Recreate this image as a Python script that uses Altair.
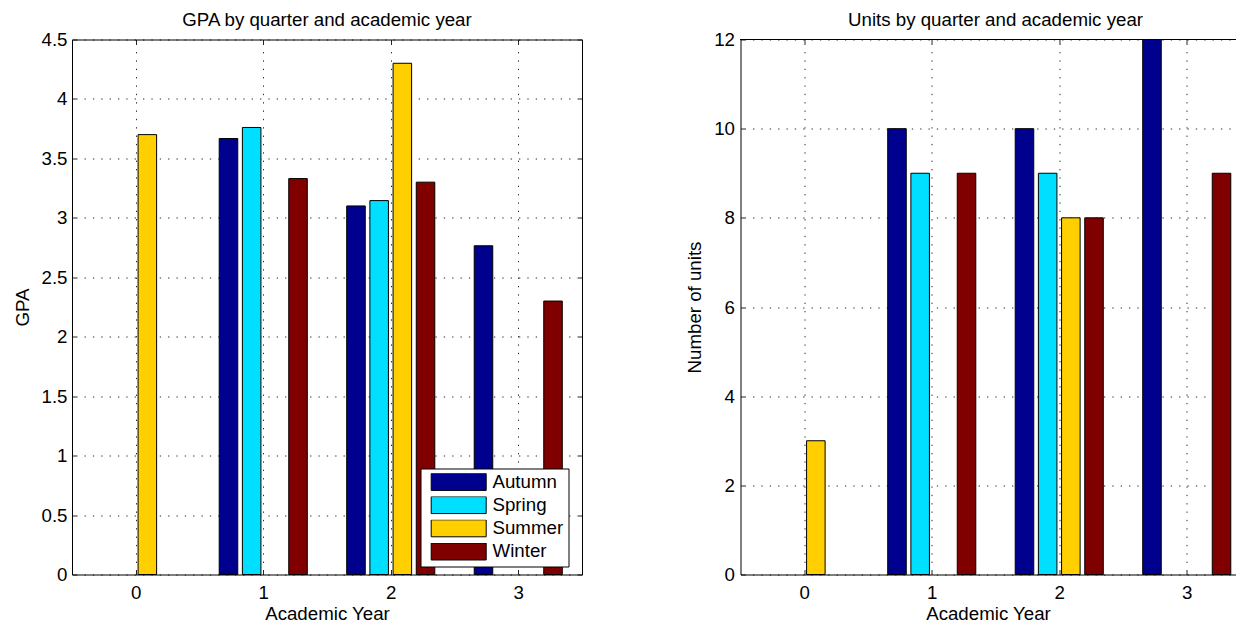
import altair as alt
import pandas as pd

# ---- data ----
years = [0, 1, 2, 3]
quarters = ["Autumn", "Spring", "Summer", "Winter"]
gpa_autumn = [None, 3.667, 3.10, 2.765]
gpa_spring = [None, 3.76, 3.145, None]
gpa_summer = [3.70, None, 4.30, None]
gpa_winter = [None, 3.33, 3.30, 2.30]
units_autumn = [None, 10, 10, 12]
units_spring = [None, 9, 9, None]
units_summer = [3, None, 8, None]
units_winter = [None, 9, 8, 9]
gpa_ticks = [0, 0.5, 1, 1.5, 2, 2.5, 3, 3.5, 4, 4.5]
unit_ticks = [0, 2, 4, 6, 8, 10, 12]
colors = ["#00008F", "#00DFFF", "#FFCF00", "#800000"]

gpa_by_q = [gpa_autumn, gpa_spring, gpa_summer, gpa_winter]
units_by_q = [units_autumn, units_spring, units_summer, units_winter]
rows = []
for qi, q in enumerate(quarters):
    for i, yr in enumerate(years):
        g = gpa_by_q[qi][i]
        u = units_by_q[qi][i]
        if g is None and u is None:
            continue
        rows.append({"year": yr, "quarter": q, "qi": qi, "gpa": g, "units": u})
df = pd.DataFrame(rows)

FONT = "Liberation Sans"
FS = 18.7
W, H = 510, 535
W_RIGHT = 495  # right panel is cut by the picture edge


def dash(L, tick=5.0, dot=1.3, gap=7.0):
    inner = L - 2 * tick
    n = int((inner - gap) // (dot + gap))
    g = (inner - n * dot) / (n + 1)
    arr = [tick]
    for _ in range(n):
        arr += [g, dot]
    arr += [g, tick, 3000]
    return [round(v, 3) for v in arr]


slot = 1 / 5.5
half = 0.4 * slot
x0_expr = f"datum.year + (datum.qi - 1.5) * {slot} - {half}"
x1_expr = f"datum.year + (datum.qi - 1.5) * {slot} + {half}"

color_scale = alt.Scale(domain=quarters, range=colors)


def x_axis(domain_line):
    return alt.Axis(
        values=years, format="d", title="Academic Year", grid=True,
        gridDash=dash(H), gridColor="black", gridWidth=1, gridOpacity=0.85,
        ticks=False, domain=domain_line, domainColor="black", domainWidth=1,
        labelPadding=8.5, labelFontSize=FS,
        labelFont=FONT, labelColor="black", titleFont=FONT, titleFontSize=FS,
        titleFontWeight="normal", titleColor="black", titleY=45,
        titleBaseline="alphabetic",
    )


def y_axis(vals, title, tx, lp, domain_line):
    return alt.Axis(
        values=vals, format="~g", title=title, grid=True,
        gridDash=dash(W), gridColor="black", gridWidth=1, gridOpacity=0.85,
        ticks=False, domain=domain_line, domainColor="black", domainWidth=1,
        labelPadding=lp, labelFontSize=FS,
        labelFont=FONT, labelColor="black", titleFont=FONT, titleFontSize=FS,
        titleFontWeight="normal", titleColor="black", titleX=tx, titleY=H / 2,
        titleBaseline="alphabetic", titleAlign="center",
    )


def title(text, dx=0):
    return alt.TitleParams(
        text, font=FONT, fontSize=FS, fontWeight="normal", color="black",
        baseline="alphabetic", offset=-14, anchor="middle", dx=dx,
    )


base = alt.Chart(df).transform_calculate(x0=x0_expr, x1=x1_expr)

left = base.mark_bar(stroke="black", strokeWidth=1).encode(
    x=alt.X("x0:Q", scale=alt.Scale(domain=[-0.5, 3.5], nice=False, zero=False),
            axis=x_axis(False)),
    x2="x1:Q",
    y=alt.Y("gpa:Q", scale=alt.Scale(domain=[0, 4.5], nice=False),
            axis=y_axis(gpa_ticks, "GPA", -43.5, 5, False)),
    y2=alt.datum(0),
    color=alt.Color(
        "quarter:N", scale=color_scale,
        legend=alt.Legend(
            title=None, orient="none", legendX=348.5, legendY=429,
            padding=4.8, clipHeight=17.2, rowPadding=3.2,
            symbolType="M-1,-0.309H1V0.309H-1Z", symbolSize=3025,
            symbolStrokeColor="black", symbolStrokeWidth=1, symbolOffset=5.4,
            labelOffset=5.8, labelFontSize=FS, labelFont=FONT,
            labelColor="black", fillColor="white", strokeColor="black",
            labelLimit=300,
        ),
    ),
).properties(
    width=W, height=H, title=title("GPA by quarter and academic year"),
    view=alt.ViewBackground(stroke="black", strokeWidth=1),
)

right_x_max = -0.5 + 4 * W_RIGHT / W
right_bars = base.mark_bar(stroke="black", strokeWidth=1).encode(
    x=alt.X("x0:Q", scale=alt.Scale(domain=[-0.5, right_x_max], nice=False, zero=False),
            axis=x_axis(True)),
    x2="x1:Q",
    y=alt.Y("units:Q", scale=alt.Scale(domain=[0, 12], nice=False),
            axis=y_axis(unit_ticks, "Number of units", -40, 6, True)),
    y2=alt.datum(0),
    color=alt.Color("quarter:N", scale=color_scale, legend=None),
)
top_edge = base.mark_rule(color="black", strokeWidth=0.8).encode(
    y=alt.datum(max(unit_ticks))
)
right = alt.layer(right_bars, top_edge).properties(
    width=W_RIGHT, height=H,
    title=title("Units by quarter and academic year", dx=(W - W_RIGHT) / 2),
    view=alt.ViewBackground(stroke=None),
)

chart = alt.hconcat(left, right, spacing=158.5, bounds="flush").resolve_legend(
    color="independent"
).properties(
    padding={"left": 5, "top": 1.5, "right": 0, "bottom": 0},
    background="white",
)

chart.save("out.html", embed_options={"renderer": "svg", "actions": False})
